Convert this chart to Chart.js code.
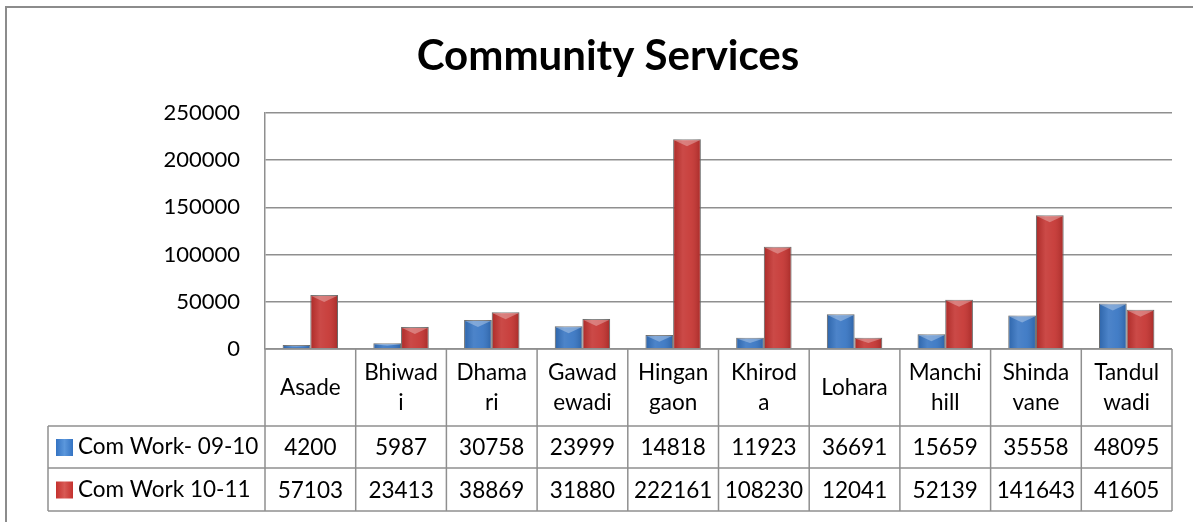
<!DOCTYPE html>
<html>
<head>
<meta charset="utf-8">
<script src="https://cdn.jsdelivr.net/npm/chart.js@4.4.1/dist/chart.umd.min.js"></script>
<style>
  html, body { margin: 0; padding: 0; background: #fff; }
  #wrap { width: 1193px; height: 522px; }
</style>
</head>
<body>
<div id="wrap"><canvas id="chart" width="1193" height="522"></canvas></div>
<script>
const chartTitle = 'Community Services';
const categories = [['Asade'], ['Bhiwad', 'i'], ['Dhama', 'ri'], ['Gawad', 'ewadi'], ['Hingan', 'gaon'],
    ['Khirod', 'a'], ['Lohara'], ['Manchi', 'hill'], ['Shinda', 'vane'], ['Tandul', 'wadi']];
const seriesNames = ['Com Work- 09-10', 'Com Work 10-11'];
const work0910 = [4200, 5987, 30758, 23999, 14818, 11923, 36691, 15659, 35558, 48095];
const work1011 = [57103, 23413, 38869, 31880, 222161, 108230, 12041, 52139, 141643, 41605];
const yTicks = [0, 50000, 100000, 150000, 200000, 250000];

const FONT = 'Lato, "Open Sans", sans-serif';
const LINE = '#8f8f8f';
const seriesColors = ['#3473c2', '#c4312e'];

// table rows under the plot (y positions of row bottoms)
const headerBottom = 426;
const row1Bottom = 468;
const row2Bottom = 511;
const legendLeft = 48;

const framePlugin = {
    id: 'frame',
    beforeDraw(chart) {
        const ctx = chart.ctx;
        ctx.save();
        ctx.strokeStyle = '#8c8c8c';
        ctx.lineWidth = 2;
        ctx.strokeRect(6, 7, 1200, 600);
        ctx.fillStyle = '#000';
        ctx.font = 'bold 42px ' + FONT;
        ctx.textAlign = 'center';
        ctx.textBaseline = 'middle';
        ctx.fillText(chartTitle, 608, 56);
        ctx.restore();
    }
};

const barShine = {
    id: 'barShine',
    afterDatasetsDraw(chart) {
        const ctx = chart.ctx;
        ctx.save();
        chart.data.datasets.forEach((ds, di) => {
            const meta = chart.getDatasetMeta(di);
            meta.data.forEach(bar => {
                const w = bar.width;
                const left = bar.x - w / 2;
                const h = bar.base - bar.y;
                if (h < 2) return;
                const g = ctx.createLinearGradient(left, 0, left + w, 0);
                g.addColorStop(0, 'rgba(0,0,0,0.12)');
                g.addColorStop(0.35, 'rgba(255,255,255,0.12)');
                g.addColorStop(0.65, 'rgba(255,255,255,0.08)');
                g.addColorStop(1, 'rgba(0,0,0,0.15)');
                ctx.fillStyle = g;
                ctx.fillRect(left, bar.y, w, h);
                const cap = Math.min(7, h / 2);
                ctx.fillStyle = 'rgba(255,255,255,0.3)';
                ctx.beginPath();
                ctx.moveTo(left + 1, bar.y + 1);
                ctx.lineTo(left + w - 1, bar.y + 1);
                ctx.lineTo(bar.x, bar.y + cap);
                ctx.closePath();
                ctx.fill();
            });
        });
        ctx.restore();
    }
};

const tablePlugin = {
    id: 'dataTable',
    afterDraw(chart) {
        const { ctx, chartArea, scales: { x } } = chart;
        const colW = (chartArea.right - chartArea.left) / categories.length;
        const top = chartArea.bottom;
        ctx.save();
        ctx.strokeStyle = LINE;
        ctx.lineWidth = 1.5;

        // horizontal lines
        [headerBottom, row1Bottom, row2Bottom].forEach(y => {
            ctx.beginPath();
            ctx.moveTo(legendLeft, y);
            ctx.lineTo(chartArea.right, y);
            ctx.stroke();
        });
        ctx.beginPath();
        ctx.moveTo(chartArea.left, top);
        ctx.lineTo(chartArea.right, top);
        ctx.stroke();
        // vertical lines
        for (let i = 0; i <= categories.length; i++) {
            const xx = chartArea.left + i * colW;
            ctx.beginPath();
            ctx.moveTo(xx, top);
            ctx.lineTo(xx, row2Bottom);
            ctx.stroke();
        }
        ctx.beginPath();
        ctx.moveTo(legendLeft, headerBottom);
        ctx.lineTo(legendLeft, row2Bottom);
        ctx.stroke();

        ctx.fillStyle = '#000';
        ctx.font = '22.5px ' + FONT;
        ctx.textAlign = 'center';
        ctx.textBaseline = 'middle';
        const headMid = (top + headerBottom) / 2;
        categories.forEach((lines, i) => {
            const cx = x.getPixelForValue(i);
            const lh = 30;
            lines.forEach((t, k) => {
                ctx.fillText(t, cx, headMid + (k - (lines.length - 1) / 2) * lh);
            });
        });

        const rows = [[work0910, headerBottom, row1Bottom], [work1011, row1Bottom, row2Bottom]];
        rows.forEach(([vals, y0, y1], r) => {
            const my = (y0 + y1) / 2;
            vals.forEach((v, i) => {
                ctx.fillStyle = '#000';
                ctx.textAlign = 'center';
                ctx.fillText(String(v), x.getPixelForValue(i), my + 1);
            });
            // legend key
            const g = ctx.createLinearGradient(56, 0, 73, 0);
            g.addColorStop(0, seriesColors[r]);
            g.addColorStop(0.5, r === 0 ? '#5b97dc' : '#d85a55');
            g.addColorStop(1, seriesColors[r]);
            ctx.fillStyle = g;
            ctx.fillRect(56, my - 8, 17, 17);
            ctx.fillStyle = '#000';
            ctx.textAlign = 'left';
            ctx.fillText(seriesNames[r], 78, my);
        });
        ctx.restore();
    }
};

new Chart(document.getElementById('chart'), {
    type: 'bar',
    data: {
        labels: categories,
        datasets: [
            {
                label: seriesNames[0],
                data: work0910,
                backgroundColor: seriesColors[0],
                borderColor: '#7a7a7a',
                borderWidth: 1
            },
            {
                label: seriesNames[1],
                data: work1011,
                backgroundColor: seriesColors[1],
                borderColor: '#7a7a7a',
                borderWidth: 1
            }
        ]
    },
    options: {
        responsive: false,
        animation: false,
        layout: { padding: { top: 113, right: 21, bottom: 173, left: 0 } },
        datasets: { bar: { categoryPercentage: 0.61, barPercentage: 1.0 } },
        plugins: {
            legend: { display: false },
            title: { display: false },
            tooltip: { enabled: false }
        },
        scales: {
            x: { display: false },
            y: {
                min: 0,
                max: 250000,
                afterFit: scale => { scale.width = 265; },
                afterBuildTicks: scale => { scale.ticks = yTicks.map(v => ({ value: v })); },
                grid: { color: LINE, lineWidth: 1.5, drawTicks: false },
                border: { display: true, color: LINE, width: 1.5 },
                ticks: {
                    padding: 25,
                    color: '#000',
                    font: { family: FONT, size: 22 },
                    callback: value => String(value)
                }
            }
        }
    },
    plugins: [framePlugin, barShine, tablePlugin]
});
</script>
</body>
</html>
